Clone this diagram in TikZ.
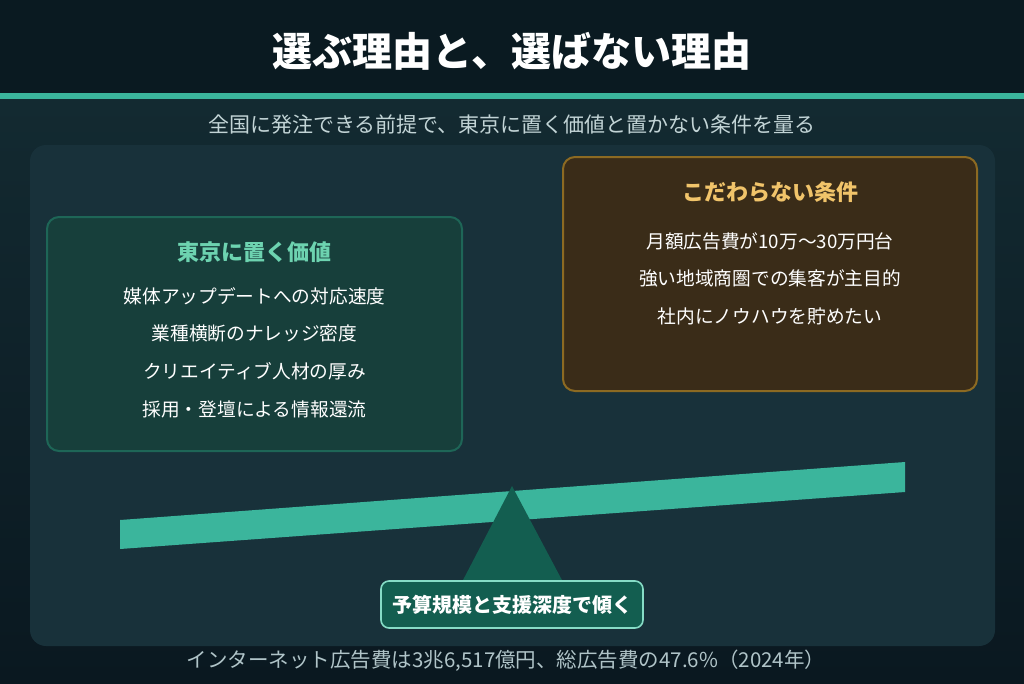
\documentclass[tikz,border=0pt]{standalone}
\usepackage{fontspec}
\setmainfont{Noto Sans CJK JP}
\definecolor{topbg}{HTML}{0A1A21}
\definecolor{bgA}{HTML}{132A31}
\definecolor{bgB}{HTML}{0A1820}
\definecolor{panelc}{HTML}{18313A}
\definecolor{tealc}{HTML}{3BB59C}
\definecolor{dteal}{HTML}{135E50}
\definecolor{lbox}{HTML}{173F3B}
\definecolor{lborder}{HTML}{1E6657}
\definecolor{rbox}{HTML}{3A2C18}
\definecolor{rborder}{HTML}{8C6A22}
\definecolor{mint}{HTML}{6DD3B0}
\definecolor{gold}{HTML}{F1C46A}
\definecolor{subtxt}{HTML}{C2D4D6}
\definecolor{foottxt}{HTML}{B0C4C8}
\definecolor{lblborder}{HTML}{86DCC6}
\tikzset{
  boxtitle/.style={font=\fontsize{22}{26}\selectfont\bfseries, inner sep=0pt},
  itemtxt/.style={font=\fontsize{18.7}{22}\selectfont, text=white, inner sep=0pt},
}
\begin{document}
\begin{tikzpicture}[x=1pt,y=-1pt]
\useasboundingbox (0,0) rectangle (1024,683);
% backgrounds
\fill[topbg] (0,0) rectangle (1024,94);
\shade[top color=bgA, bottom color=bgB] (0,99) rectangle (1024,683);
\fill[tealc] (0,93) rectangle (1024,99);
\fill[panelc, rounded corners=16pt] (30,145) rectangle (995,646);
% title & subtitle
\node[font=\fontsize{40}{48}\selectfont\bfseries, text=white, inner sep=0pt] (title) at (512,51) {選ぶ理由と、選ばない理由};
\node[font=\fontsize{21}{24}\selectfont, text=subtxt, inner sep=0pt] (subtitle) at (512,125) {全国に発注できる前提で、東京に置く価値と置かない条件を量る};
% left box
\draw[line width=2pt, draw=lborder, fill=lbox, rounded corners=12pt] (47,217) rectangle (462,451);
\node[boxtitle, text=mint] (ltitle) at (254.5,252) {東京に置く価値};
\node[itemtxt] (l1) at (254.5,296) {媒体アップデートへの対応速度};
\node[itemtxt] (l2) at (254.5,333) {業種横断のナレッジ密度};
\node[itemtxt] (l3) at (254.5,371) {クリエイティブ人材の厚み};
\node[itemtxt] (l4) at (254.5,409) {採用・登壇による情報還流};
% right box
\draw[line width=2pt, draw=rborder, fill=rbox, rounded corners=12pt] (563,157) rectangle (977,391);
\node[boxtitle, text=gold] (rtitle) at (770,192) {こだわらない条件};
\node[itemtxt] (r1) at (770,241) {月額広告費が10万〜30万円台};
\node[itemtxt] (r2) at (770,278) {強い地域商圏での集客が主目的};
\node[itemtxt] (r3) at (770,316) {社内にノウハウを貯めたい};
% seesaw
\fill[tealc] (120,520) -- (905,462) -- (905,492) -- (120,549) -- cycle;
\fill[dteal] (512,486) -- (563,582) -- (462,582) -- cycle;
\node[draw=lblborder, line width=1.6pt, fill=dteal, rounded corners=8pt, minimum width=262pt, minimum height=47pt, inner sep=0pt, font=\fontsize{20}{24}\selectfont\bfseries, text=white] (pivot) at (512,604.5) {予算規模と支援深度で傾く};
% footer
\node[font=\fontsize{20.5}{24}\selectfont, text=foottxt, inner sep=0pt] (footer) at (506,661) {インターネット広告費は3兆6,517億円、総広告費の47.6\%（2024年）};
\end{tikzpicture}
\end{document}
